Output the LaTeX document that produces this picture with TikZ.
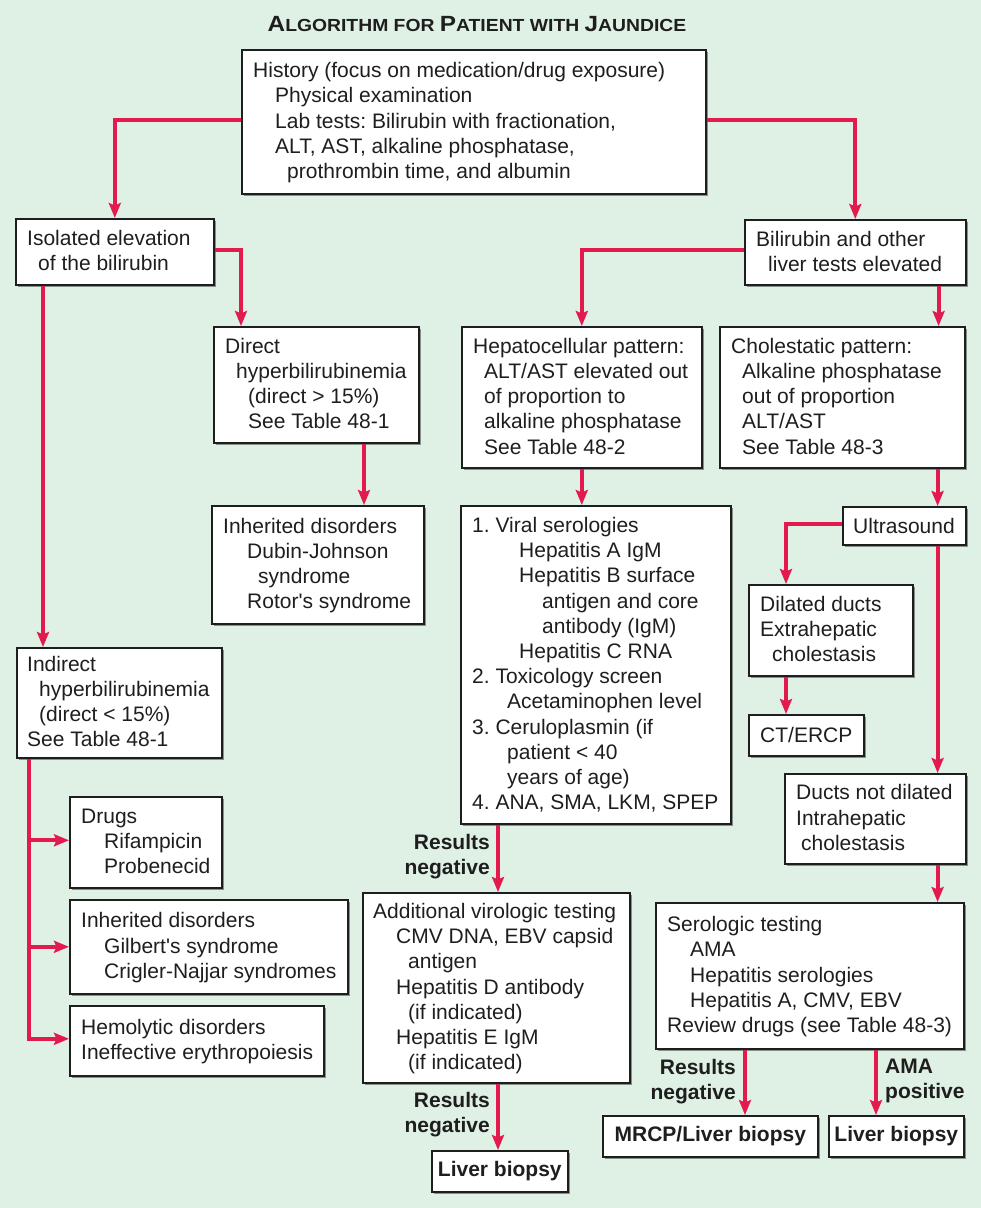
\documentclass[tikz,border=0pt]{standalone}
\usepackage{fontspec}
\usepackage{graphicx}
\setmainfont{Liberation Sans}[Ligatures=TeXOff]
\frenchspacing
\usetikzlibrary{arrows.meta,shadows,calc}
\definecolor{bg}{RGB}{223,240,229}
\definecolor{arrc}{RGB}{226,26,78}
\definecolor{ink}{RGB}{30,30,30}
\tikzset{
  bx/.style={draw=ink, line width=1.6pt, fill=white, inner sep=0pt,
    drop shadow={shadow xshift=2.5pt, shadow yshift=-2.5pt, fill=black, opacity=0.4}},
  tx/.style={align=left, inner sep=0pt, text=ink, font=\fontsize{21}{25.2}\selectfont,
    execute at begin node=\strut, execute at end node=\strut},
  lab/.style={inner sep=0pt, text=ink, font=\bfseries\fontsize{21}{25.2}\selectfont},
  con/.style={draw=arrc, line width=4pt},
  arw/.style={con, -{Stealth[length=15pt,width=12pt,inset=2.5pt]}},
}
\newcommand{\boxnode}[7]{%
  \node[bx, minimum width=#4pt, minimum height=#5pt, anchor=north west] (#1) at (#2,#3) {};
  \node[tx, anchor=west] (#1t) at ([xshift=#6pt, yshift=-2.5pt]#1.west) {#7};
}
\newcommand{\bigc}[1]{{\fontsize{22}{22}\selectfont #1}}
\newcommand{\smc}[1]{{\fontsize{17.5}{22}\selectfont #1}}
\begin{document}
\begin{tikzpicture}[x=1pt,y=-1pt]
\useasboundingbox (0,0) rectangle (981,1208);
\fill[bg] (0,0) rectangle (981,1208);

\node[inner sep=0pt, text=ink, font=\bfseries] (title) at (477,24)
  {\scalebox{1.105}[1]{\bigc{A}\smc{LGORITHM FOR }\bigc{P}\smc{ATIENT WITH }\bigc{J}\smc{AUNDICE}}};

\boxnode{top}{241}{49}{464}{144}{12}{History (focus on medication/drug exposure)\\\hspace*{22pt}Physical examination\\\hspace*{22pt}Lab tests: Bilirubin with fractionation,\\\hspace*{22pt}ALT, AST, alkaline phosphatase,\\\hspace*{34pt}prothrombin time, and albumin}

\boxnode{iso}{15}{218}{198}{66}{12}{Isolated elevation\\\hspace*{11pt}of the bilirubin}
\boxnode{dir}{213}{326}{205}{116}{12}{Direct\\\hspace*{11pt}hyperbilirubinemia\\\hspace*{23pt}(direct > 15\%)\\\hspace*{23pt}See Table 48-1}
\boxnode{inh1}{211}{505}{212}{118}{12}{Inherited disorders\\\hspace*{24pt}Dubin-Johnson\\\hspace*{35pt}syndrome\\\hspace*{24pt}Rotor's syndrome}
\boxnode{indir}{16}{647}{205}{110}{11}{Indirect\\\hspace*{12pt}hyperbilirubinemia\\\hspace*{12pt}(direct < 15\%)\\See Table 48-1}
\boxnode{drugs}{69}{796}{152}{91}{12}{Drugs\\\hspace*{23pt}Rifampicin\\\hspace*{23pt}Probenecid}
\boxnode{inh2}{69}{899}{278}{94}{12}{Inherited disorders\\\hspace*{23pt}Gilbert's syndrome\\\hspace*{23pt}Crigler-Najjar syndromes}
\boxnode{hemo}{69}{1005}{254}{70}{12}{Hemolytic disorders\\Ineffective erythropoiesis}

\boxnode{bili}{744}{219}{221}{65}{12}{Bilirubin and other\\\hspace*{12pt}liver tests elevated}
\boxnode{hep}{461}{326}{240}{141}{12}{Hepatocellular pattern:\\\hspace*{11pt}ALT/AST elevated out\\\hspace*{11pt}of proportion to\\\hspace*{11pt}alkaline phosphatase\\\hspace*{11pt}See Table 48-2}
\boxnode{chol}{719}{326}{245}{141}{12}{Cholestatic pattern:\\\hspace*{11pt}Alkaline phosphatase\\\hspace*{11pt}out of proportion\\\hspace*{11pt}ALT/AST\\\hspace*{11pt}See Table 48-3}
\boxnode{viral}{460}{505}{270}{318}{12}{1. Viral serologies\\\hspace*{47pt}Hepatitis A IgM\\\hspace*{47pt}Hepatitis B surface\\\hspace*{70pt}antigen and core\\\hspace*{70pt}antibody (IgM)\\\hspace*{47pt}Hepatitis C RNA\\2. Toxicology screen\\\hspace*{35pt}Acetaminophen level\\3. Ceruloplasmin (if\\\hspace*{35pt}patient < 40\\\hspace*{35pt}years of age)\\4. ANA, SMA, LKM, SPEP}
\boxnode{us}{842}{506}{123}{38}{11}{Ultrasound}
\boxnode{dil}{748}{584}{164}{91}{12}{Dilated ducts\\Extrahepatic\\\hspace*{12pt}cholestasis}
\boxnode{ct}{748}{714}{115}{41}{12}{CT/ERCP}
\boxnode{ducts}{784}{773}{181}{90}{12}{Ducts not dilated\\Intrahepatic\\\hspace*{5pt}cholestasis}
\boxnode{sero}{655}{902}{308}{146}{12}{Serologic testing\\\hspace*{23pt}AMA\\\hspace*{23pt}Hepatitis serologies\\\hspace*{23pt}Hepatitis A, CMV, EBV\\Review drugs (see Table 48-3)}
\boxnode{add}{362}{892}{267}{190}{11}{Additional virologic testing\\\hspace*{23pt}CMV DNA, EBV capsid\\\hspace*{35pt}antigen\\\hspace*{23pt}Hepatitis D antibody\\\hspace*{35pt}(if indicated)\\\hspace*{23pt}Hepatitis E IgM\\\hspace*{35pt}(if indicated)}

\node[bx, lab, minimum width=215pt, minimum height=41pt, anchor=north west] (mrcp) at (602,1115) {MRCP/Liver biopsy};
\node[bx, lab, minimum width=135pt, minimum height=41pt, anchor=north west] (lb2) at (828,1115) {Liver biopsy};
\node[bx, lab, minimum width=136pt, minimum height=41pt, anchor=north west] (lb1) at (431,1150) {Liver biopsy};

% connectors
\draw[arw] ([yshift=2pt]top.west) -| (iso.north);
\draw[arw] ([yshift=2pt]top.east) -| (bili.north);
\draw[arw] ([yshift=2pt]iso.east) -| ($(dir.north west)+(28,0)$);
\draw[arw] ($(iso.south west)+(28,0)$) -- ($(indir.north west)+(27,0)$);
\draw[arw] ($(dir.south west)+(151,0)$) -- ($(inh1.north west)+(153,0)$);
\coordinate (trunk) at ($(indir.south west)+(13,0)$);
\coordinate (drugsin) at ([yshift=2pt]drugs.west);
\coordinate (hemoin) at ([yshift=2pt]hemo.west);
\draw[arw] (trunk) |- (hemoin);
\draw[arw] (trunk |- drugsin) -- (drugsin);
\draw[arw] (trunk |- inh2.west) -- (inh2.west);

\draw[arw] ([yshift=2pt]bili.west) -| (hep.north);
\draw[arw] ($(bili.south east)+(-28,0)$) -- ($(chol.north east)+(-27,0)$);
\draw[arw] (hep.south) -- (hep.south |- viral.north);
\draw[arw] ($(chol.south east)+(-28,0)$) -- ($(us.north east)+(-29,0)$);
\draw[arw] ([yshift=1.5pt]us.west) -| ($(dil.north west)+(38,0)$);
\draw[arw] ($(dil.south west)+(38,0)$) -- ($(ct.north west)+(38,0)$);
\draw[arw] ($(us.south east)+(-29,0)$) -- ($(ducts.north east)+(-29,0)$);
\draw[arw] ($(ducts.south east)+(-29,0)$) -- ($(sero.north east)+(-27,0)$);
\draw[arw] ($(sero.south west)+(90,0)$) -- ($(mrcp.north west)+(143,0)$);
\draw[arw] ($(sero.south west)+(221,0)$) -- ($(lb2.north west)+(48,0)$);
\draw[arw] ($(viral.south west)+(38,0)$) -- ($(add.north west)+(136,0)$);
\draw[arw] ($(add.south west)+(136,0)$) -- ($(lb1.north west)+(67,0)$);

% labels
\node[lab, align=right, anchor=east] (rn1) at (490,856.5) {Results\\negative};
\node[lab, align=right, anchor=east] (rn2) at (490,1115) {Results\\negative};
\node[lab, align=right, anchor=east] (rn3) at (736,1082) {Results\\negative};
\node[lab, align=left, anchor=west] (amap) at (885,1081) {AMA\\positive};
\end{tikzpicture}
\end{document}
